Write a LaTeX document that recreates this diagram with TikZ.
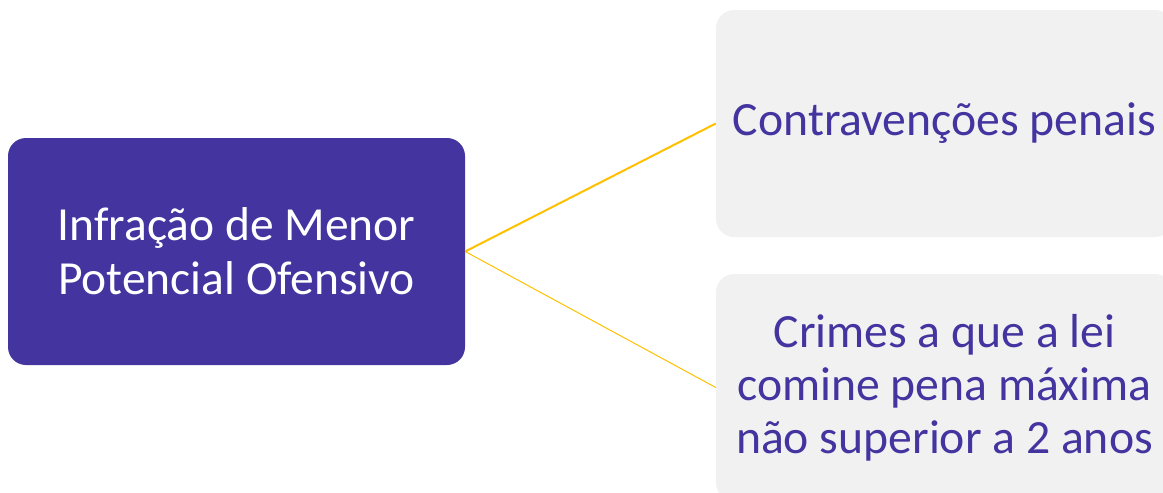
\documentclass[tikz,border=0pt]{standalone}
\usepackage{fontspec}
\setmainfont{Carlito}
\definecolor{boxpurple}{HTML}{4334A0}
\definecolor{boxgray}{HTML}{F1F1F1}
\definecolor{linkyellow}{HTML}{FFC000}
\begin{document}
\begin{tikzpicture}[x=1pt,y=1pt,
  mainbox/.style={rectangle, rounded corners=18pt, fill=boxpurple, text=white,
    minimum width=457pt, minimum height=227pt, align=center, inner sep=0pt,
    font=\fontsize{47.5}{54}\selectfont},
  sidebox/.style={rectangle, rounded corners=18pt, fill=boxgray, text=boxpurple,
    minimum width=457pt, minimum height=227pt, align=center, inner sep=0pt,
    font=\fontsize{47.7}{53}\selectfont},
  link/.style={draw=linkyellow}]
\useasboundingbox (0,0) rectangle (1163,-493);
\clip (0,0) rectangle (1163,-493);
\node[mainbox] (left) at (236.5,-251.5) {Infração de Menor\\Potencial Ofensivo};
\node[sidebox] (top) at (944.5,-123.5) {Contravenções penais};
\node[sidebox] (bot) at (944.5,-387.5) {Crimes a que a lei\\comine pena máxima\\não superior a 2 anos};
\draw[link, line width=2pt] (left.east) -- (top.west);
\draw[link, line width=1pt] (left.east) -- (bot.west);
\end{tikzpicture}
\end{document}
